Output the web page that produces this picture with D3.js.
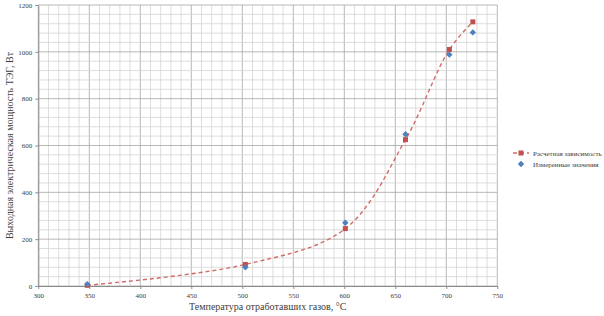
<!DOCTYPE html>
<html>
<head>
<meta charset="utf-8">
<script src="https://d3js.org/d3.v7.min.js"></script>
<style>
  body { margin: 0; background: #fff; }
  text { font-family: "Liberation Serif", "Times New Roman", serif; fill: #404040; }
</style>
</head>
<body>
<script>
// temperatures of the exhaust gas, °C
var temps = [348, 503, 601, 660, 703, 726];
// calculated power, W
var calcPower = [3, 92, 245, 625, 1010, 1128];
// measured power, W
var measPower = [8, 80, 270, 648, 988, 1083];
var xTicks = [300, 350, 400, 450, 500, 550, 600, 650, 700, 750];
var yTicks = [0, 200, 400, 600, 800, 1000, 1200];
var seriesNames = ["Расчетная зависимость", "Измеренные значения"];

var width = 604, height = 316;
var svg = d3.select("body").append("svg")
  .attr("width", width).attr("height", height);

var x = d3.scaleLinear().domain([300, 750]).range([38.3, 497.3]);
var y = d3.scaleLinear().domain([0, 1200]).range([286, 5]);

// grid: minor and major lines
var g = svg.append("g");
g.selectAll(".vx").data(d3.range(300, 751, 10)).enter().append("line")
  .attr("x1", d => x(d)).attr("x2", d => x(d))
  .attr("y1", y(0)).attr("y2", y(1200))
  .style("stroke", d => d % 50 === 0 ? "#a6a6a6" : "#d4d4d4")
  .style("stroke-width", 0.8);
g.selectAll(".hy").data(d3.range(0, 1201, 40)).enter().append("line")
  .attr("x1", x(300)).attr("x2", x(750))
  .attr("y1", d => y(d)).attr("y2", d => y(d))
  .style("stroke", d => d % 200 === 0 ? "#a6a6a6" : "#d4d4d4")
  .style("stroke-width", 0.8);

// axes
var xAxis = svg.append("g").attr("transform", "translate(0," + y(0) + ")")
  .call(d3.axisBottom(x).tickValues(xTicks).tickFormat(d3.format("d")).tickSize(3).tickSizeOuter(0));
var yAxis = svg.append("g").attr("transform", "translate(" + x(300) + ",0)")
  .call(d3.axisLeft(y).tickValues(yTicks).tickFormat(d3.format("d")).tickSize(3).tickSizeOuter(0));
[xAxis, yAxis].forEach(function (a) {
  a.selectAll("path, line").style("stroke", "#8c8c8c");
  a.selectAll("text").style("font-family", "Liberation Serif").style("font-size", "7px").style("fill", "#404040");
});
xAxis.selectAll("text").attr("dy", "0.9em");

// axis titles
svg.append("text")
  .attr("x", (x(300) + x(750)) / 2).attr("y", 310)
  .attr("text-anchor", "middle").style("font-size", "10px")
  .text("Температура отработавших газов, °С");
svg.append("text")
  .attr("transform", "translate(13," + (y(600)) + ") rotate(-90)")
  .attr("text-anchor", "middle").style("font-size", "10px")
  .text("Выходная электрическая мощность ТЭГ, Вт");

// calculated curve
var calc = temps.map((t, i) => [t, calcPower[i]]);
var meas = temps.map((t, i) => [t, measPower[i]]);
var line = d3.line().x(d => x(d[0])).y(d => y(d[1])).curve(d3.curveCatmullRom.alpha(0.5));
svg.append("path").datum(calc).attr("d", line)
  .style("fill", "none").style("stroke", "#d26a68")
  .style("stroke-width", 1.4).style("stroke-dasharray", "4,3");

svg.selectAll(".sq").data(calc).enter().append("rect")
  .attr("x", d => x(d[0]) - 2.5).attr("y", d => y(d[1]) - 2.5)
  .attr("width", 5).attr("height", 5).style("fill", "#c0504d");
var diamond = "M0,-3.2L3.2,0L0,3.2L-3.2,0Z";
svg.selectAll(".dm").data(meas).enter().append("path")
  .attr("d", diamond)
  .attr("transform", d => "translate(" + x(d[0]) + "," + y(d[1]) + ")")
  .style("fill", "#4f81bd");

// legend
var lg = svg.append("g").attr("transform", "translate(513,153)");
lg.append("line").attr("x1", 0).attr("x2", 16).attr("y1", 0).attr("y2", 0)
  .style("stroke", "#d26a68").style("stroke-width", 1.4).style("stroke-dasharray", "4,3");
lg.append("rect").attr("x", 5.5).attr("y", -2.5).attr("width", 5).attr("height", 5).style("fill", "#c0504d");
lg.append("path").attr("d", diamond).attr("transform", "translate(8,11)").style("fill", "#4f81bd");
lg.selectAll(".lt").data(seriesNames).enter().append("text")
  .attr("x", 20).attr("y", (d, i) => i * 11 + 2.5)
  .style("font-size", "7px").text(d => d);
</script>
</body>
</html>
